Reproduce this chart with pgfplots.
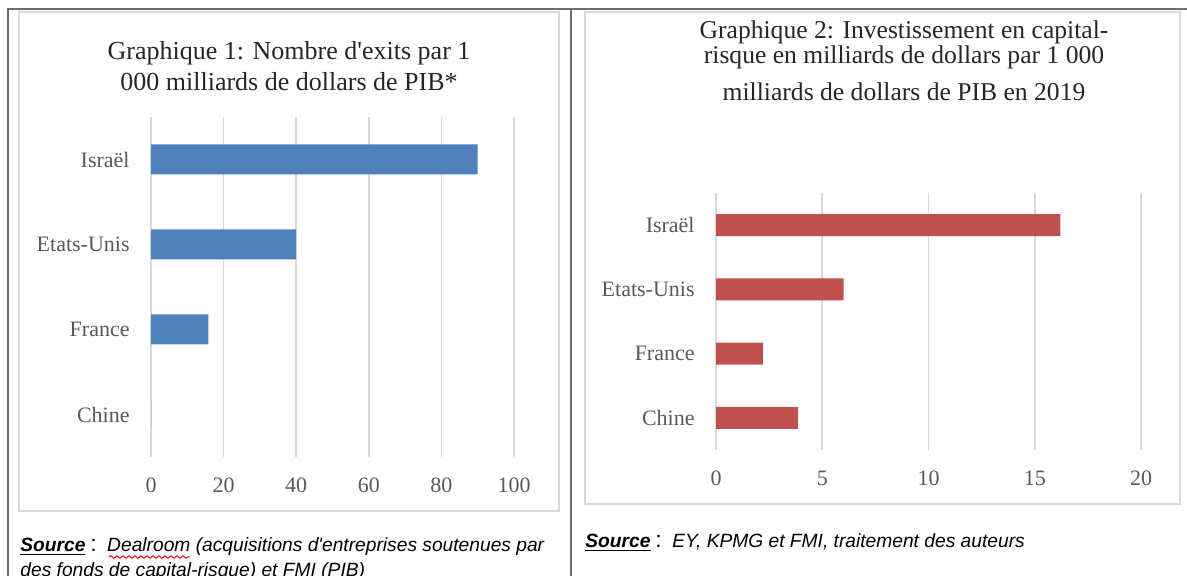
\documentclass[border=0pt]{standalone}
\usepackage{fontspec}
\setmainfont{Liberation Serif}[Ligatures=TeXOff]
\newfontfamily\arialfont{Liberation Sans}[Ligatures=TeXOff]
\usepackage{pgfplots}
\pgfplotsset{compat=1.18}
\usetikzlibrary{decorations.pathmorphing}

\definecolor{barblue}{HTML}{4F81BD}
\definecolor{barred}{HTML}{C0504D}
\definecolor{gridc}{HTML}{D9D9D9}
\definecolor{labc}{HTML}{595959}
\definecolor{titc}{HTML}{262626}
\definecolor{framec}{HTML}{6E6E6E}

\pgfplotsset{
  hbars/.style={
    scale only axis,
    ymin=-0.5, ymax=3.5,
    ytick={0,1,2,3},
    yticklabels={Chine,France,Etats-Unis,Israël},
    axis line style={draw=none},
    major tick length=0pt,
    xmajorgrids,
    grid style={gridc, line width=0.8pt},
    tick label style={font=\fontsize{11}{13}\selectfont, text=labc},
    /pgf/number format/assume math mode=true,
    xticklabel style={anchor=center, yshift=-14pt},
    yticklabel style={anchor=east, inner sep=0pt, xshift=-10.5pt},
    xbar, bar shift=0pt,
    clip=false,
  }
}

\newcommand{\srccolon}{\hspace{0.25em}{\fontsize{11.5}{11}\selectfont :}\hspace{0.55em}}

\begin{document}
\begin{tikzpicture}[x=0.5pt, y=0.5pt]
\path[use as bounding box] (0,0) rectangle (1187,576);
\clip (0,0) rectangle (1187,576);

% outer frame
\draw[framec, line width=1pt] (8,-5) -- (8,567) -- (1195,567);
\draw[framec, line width=1pt] (571,-5) -- (571,567);

% chart boxes
\draw[gridc, line width=0.8pt] (19,65) rectangle (559,564);
\draw[gridc, line width=0.8pt] (585,72) rectangle (1180,564);

% chart 1
\node[text=titc, font=\fontsize{13}{15}\selectfont] at (289,523) {Graphique 1: Nombre d'exits par 1};
\node[text=titc, font=\fontsize{13}{15}\selectfont] at (289,494) {000 milliards de dollars de PIB*};
\begin{axis}[hbars,
  at={(75.5pt,59.5pt)}, anchor=south west,
  width=181.5pt, height=170pt,
  xmin=0, xmax=100, xtick={0,20,40,60,80,100},
  bar width=15pt]
\addplot[fill=barblue, draw=none] coordinates {(0,0) (15.8,1) (40,2) (90,3)};
\end{axis}

% chart 2
\node[text=titc, font=\fontsize{12.8}{15}\selectfont] at (904,544) {Graphique 2: Investissement en capital-};
\node[text=titc, font=\fontsize{12.8}{15}\selectfont] at (904,519) {risque en milliards de dollars par 1 000};
\node[text=titc, font=\fontsize{12.8}{15}\selectfont] at (904,484) {milliards de dollars de PIB en 2019};
\begin{axis}[hbars,
  at={(358pt,63pt)}, anchor=south west,
  width=212.5pt, height=128.5pt,
  xmin=0, xmax=20, xtick={0,5,10,15,20},
  bar width=11pt]
\addplot[fill=barred, draw=none] coordinates {(3.85,0) (2.2,1) (6.0,2) (16.2,3)};
\end{axis}

% sources
\node[anchor=west, inner sep=0pt, font=\arialfont\fontsize{9.6}{11}\selectfont] at (20,29)
  {\textbf{\textit{\underline{Source}}}\srccolon\textit{Dealroom (acquisitions d'entreprises soutenues par}};
\node[anchor=west, inner sep=0pt, font=\arialfont\fontsize{9.6}{11}\selectfont] at (20,4)
  {\textit{des fonds de capital-risque) et FMI (PIB)}};
\draw[red, line width=0.5pt, decorate, decoration={snake, amplitude=0.6pt, segment length=3pt}]
  (109,19) -- (190,19);
\node[anchor=west, inner sep=0pt, font=\arialfont\fontsize{9.6}{11}\selectfont] at (585,33)
  {\textbf{\textit{\underline{Source}}}\srccolon\textit{EY, KPMG et FMI, traitement des auteurs}};
\end{tikzpicture}
\end{document}
